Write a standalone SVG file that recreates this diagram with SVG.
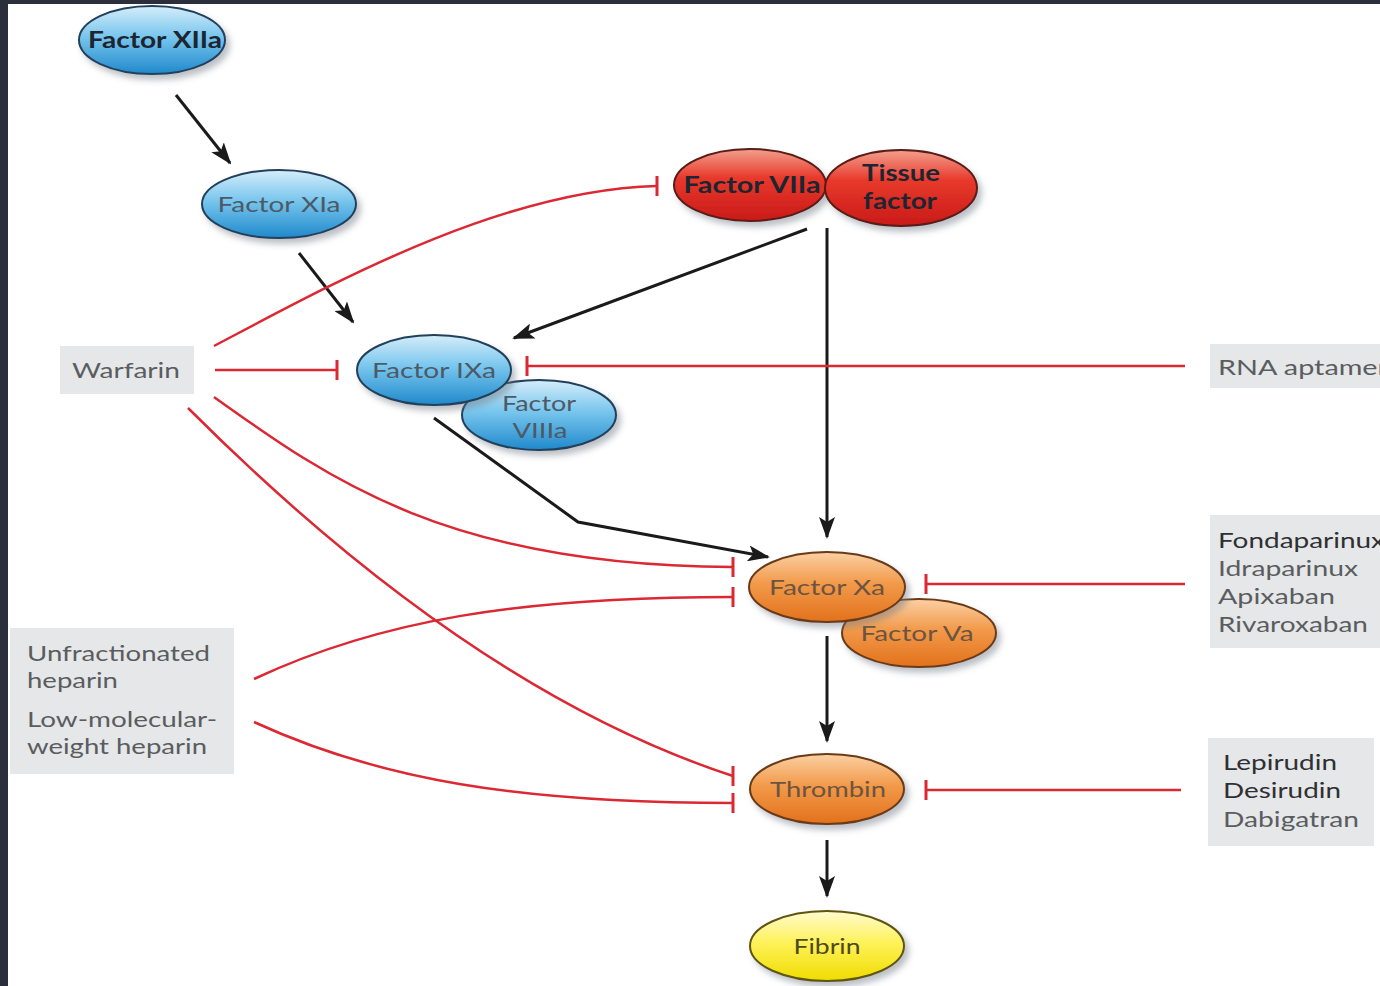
<svg xmlns="http://www.w3.org/2000/svg" width="1380" height="986" viewBox="0 0 1380 986">
<defs>
  <linearGradient id="gBlue" x1="0" y1="0" x2="0" y2="1">
    <stop offset="0" stop-color="#d6edf9"/>
    <stop offset="0.45" stop-color="#78c6ee"/>
    <stop offset="1" stop-color="#2089cb"/>
  </linearGradient>
  <linearGradient id="gRed" x1="0" y1="0" x2="0" y2="1">
    <stop offset="0" stop-color="#f3a08e"/>
    <stop offset="0.4" stop-color="#e8392c"/>
    <stop offset="1" stop-color="#c91a18"/>
  </linearGradient>
  <linearGradient id="gOrange" x1="0" y1="0" x2="0" y2="1">
    <stop offset="0" stop-color="#fbd0a4"/>
    <stop offset="0.45" stop-color="#f29a4a"/>
    <stop offset="1" stop-color="#e2711c"/>
  </linearGradient>
  <linearGradient id="gYellow" x1="0" y1="0" x2="0" y2="1">
    <stop offset="0" stop-color="#fffbd0"/>
    <stop offset="0.45" stop-color="#fff25a"/>
    <stop offset="1" stop-color="#efdc00"/>
  </linearGradient>
  <filter id="shadow" x="-20%" y="-20%" width="150%" height="160%">
    <feDropShadow dx="4" dy="5" stdDeviation="3" flood-color="#6b7480" flood-opacity="0.45"/>
  </filter>
  <marker id="arrow" viewBox="0 0 22 16" refX="20" refY="8" markerWidth="22" markerHeight="16" markerUnits="userSpaceOnUse" orient="auto">
    <path d="M0,0 L22,8 L0,16 L5,8 Z" fill="#1a1a1a"/>
  </marker>
  <marker id="tbar" viewBox="-3 -12 6 24" refX="0" refY="0" markerWidth="6" markerHeight="24" markerUnits="userSpaceOnUse" orient="0">
    <path d="M0,-10 V10" stroke="#dc2833" stroke-width="3"/>
  </marker>
</defs>
<style>
  .bg { fill: #ffffff; }
  .frame { fill: #2b2f3b; }
  .box { fill: #e6e7e8; }
  .lbl { font-family: Lato, "Open Sans", "Liberation Sans", sans-serif; font-size: 22px; fill: #5a5d60; }
  .lbl.dk { fill: #2e3033; }
  .node { stroke-width: 2; filter: url(#shadow); }
  .blue { fill: url(#gBlue); stroke: #23405c; }
  .red { fill: url(#gRed); stroke: #5a1a14; }
  .orange { fill: url(#gOrange); stroke: #6a3a14; }
  .yellow { fill: url(#gYellow); stroke: #5e5510; }
  .nt { font-family: Lato, "Open Sans", "Liberation Sans", sans-serif; font-size: 22px; text-anchor: middle; }
  .nt.b { font-weight: bold; fill: #1c2530; }
  .nt.gb { fill: #4d5a66; }
  .nt.go { fill: #6d5440; }
  .nt.gy { fill: #4e4a20; }
  .act { fill: none; stroke: #1a1a1a; stroke-width: 3; marker-end: url(#arrow); }
  .inh { fill: none; stroke: #dc2833; stroke-width: 2.5; marker-end: url(#tbar); }
</style>
<rect class="frame" x="0" y="0" width="1380" height="986"/>
<rect class="bg" x="8" y="4" width="1372" height="982"/>

<g id="connectors">
  <path class="act" d="M176,95 L230,163"/>
  <path class="act" d="M299,253 L353,322"/>
  <path class="act" d="M807,229 L514,338"/>
  <path class="act" d="M827,228 L827,537"/>
  <path class="act" d="M434,418 L578,522 L768,557"/>
  <path class="act" d="M827,636 L827,741"/>
  <path class="act" d="M827,840 L827,896"/>
  <path class="inh" d="M214,346 C330,285 500,190 657,186"/>
  <path class="inh" d="M215,370 L337,370"/>
  <path class="inh" d="M214,397 C330,480 450,566 733,567"/>
  <path class="inh" d="M188,408 C300,520 500,700 733,776"/>
  <path class="inh" d="M254,679 C380,620 520,597 733,597"/>
  <path class="inh" d="M254,722 C380,780 520,803 733,803"/>
  <path class="inh" d="M1185,366 L527,366"/>
  <path class="inh" d="M1185,584 L926,584"/>
  <path class="inh" d="M1181,790 L926,790"/>
</g>

<g id="node-factor-xiia">
  <ellipse class="node blue" cx="152" cy="40" rx="73" ry="34"/>
  <text class="nt b" x="155" y="48" textLength="134" lengthAdjust="spacingAndGlyphs">Factor XIIa</text>
</g>
<g id="node-factor-xia">
  <ellipse class="node blue" cx="279" cy="204" rx="77" ry="34"/>
  <text class="nt gb" x="279" y="212" textLength="123" lengthAdjust="spacingAndGlyphs">Factor XIa</text>
</g>
<g id="node-factor-viia">
  <ellipse class="node red" cx="750" cy="185" rx="76" ry="36"/>
  <text class="nt b" x="752" y="193" textLength="137" lengthAdjust="spacingAndGlyphs">Factor VIIa</text>
</g>
<g id="node-tissue-factor">
  <ellipse class="node red" cx="901" cy="188" rx="76" ry="38"/>
  <text class="nt b" x="901" y="181" textLength="78" lengthAdjust="spacingAndGlyphs">Tissue</text>
  <text class="nt b" x="900" y="209" textLength="74" lengthAdjust="spacingAndGlyphs">factor</text>
</g>
<g id="node-factor-viiia">
  <ellipse class="node blue" cx="539" cy="415" rx="77" ry="35"/>
  <text class="nt gb" x="539" y="411" textLength="74" lengthAdjust="spacingAndGlyphs">Factor</text>
  <text class="nt gb" x="540" y="438" textLength="55" lengthAdjust="spacingAndGlyphs">VIIIa</text>
</g>
<g id="node-factor-ixa">
  <ellipse class="node blue" cx="434" cy="370" rx="77" ry="35"/>
  <text class="nt gb" x="434" y="378" textLength="124" lengthAdjust="spacingAndGlyphs">Factor IXa</text>
</g>
<g id="node-factor-va">
  <ellipse class="node orange" cx="919" cy="633" rx="77" ry="34"/>
  <text class="nt go" x="917" y="641" textLength="113" lengthAdjust="spacingAndGlyphs">Factor Va</text>
</g>
<g id="node-factor-xa">
  <ellipse class="node orange" cx="827" cy="587" rx="78" ry="35"/>
  <text class="nt go" x="827" y="595" textLength="116" lengthAdjust="spacingAndGlyphs">Factor Xa</text>
</g>
<g id="node-thrombin">
  <ellipse class="node orange" cx="827" cy="789" rx="77" ry="35"/>
  <text class="nt go" x="828" y="797" textLength="116" lengthAdjust="spacingAndGlyphs">Thrombin</text>
</g>
<g id="node-fibrin">
  <ellipse class="node yellow" cx="827" cy="946" rx="77" ry="35"/>
  <text class="nt gy" x="827" y="954" textLength="67" lengthAdjust="spacingAndGlyphs">Fibrin</text>
</g>

<g id="label-warfarin">
  <rect class="box" x="60" y="346" width="134" height="48"/>
  <text class="lbl" x="72" y="378" textLength="108" lengthAdjust="spacingAndGlyphs">Warfarin</text>
</g>
<g id="label-rna-aptamer">
  <rect class="box" x="1210" y="344" width="170" height="44"/>
  <text class="lbl" x="1218" y="375" textLength="170" lengthAdjust="spacingAndGlyphs">RNA aptamer</text>
</g>
<g id="label-xa-inhibitors">
  <rect class="box" x="1210" y="515" width="170" height="133"/>
  <text class="lbl dk" x="1218" y="548" textLength="167" lengthAdjust="spacingAndGlyphs">Fondaparinux</text>
  <text class="lbl" x="1218" y="576" textLength="140" lengthAdjust="spacingAndGlyphs">Idraparinux</text>
  <text class="lbl" x="1218" y="604" textLength="117" lengthAdjust="spacingAndGlyphs">Apixaban</text>
  <text class="lbl" x="1218" y="632" textLength="150" lengthAdjust="spacingAndGlyphs">Rivaroxaban</text>
</g>
<g id="label-heparins">
  <rect class="box" x="10" y="628" width="224" height="146"/>
  <text class="lbl" x="27" y="661" textLength="183" lengthAdjust="spacingAndGlyphs">Unfractionated</text>
  <text class="lbl" x="27" y="688" textLength="91" lengthAdjust="spacingAndGlyphs">heparin</text>
  <text class="lbl" x="27" y="727" textLength="190" lengthAdjust="spacingAndGlyphs">Low-molecular-</text>
  <text class="lbl" x="27" y="754" textLength="180" lengthAdjust="spacingAndGlyphs">weight heparin</text>
</g>
<g id="label-thrombin-inhibitors">
  <rect class="box" x="1208" y="738" width="166" height="108"/>
  <text class="lbl dk" x="1223" y="770" textLength="114" lengthAdjust="spacingAndGlyphs">Lepirudin</text>
  <text class="lbl dk" x="1223" y="798" textLength="118" lengthAdjust="spacingAndGlyphs">Desirudin</text>
  <text class="lbl" x="1223" y="827" textLength="136" lengthAdjust="spacingAndGlyphs">Dabigatran</text>
</g>
</svg>
